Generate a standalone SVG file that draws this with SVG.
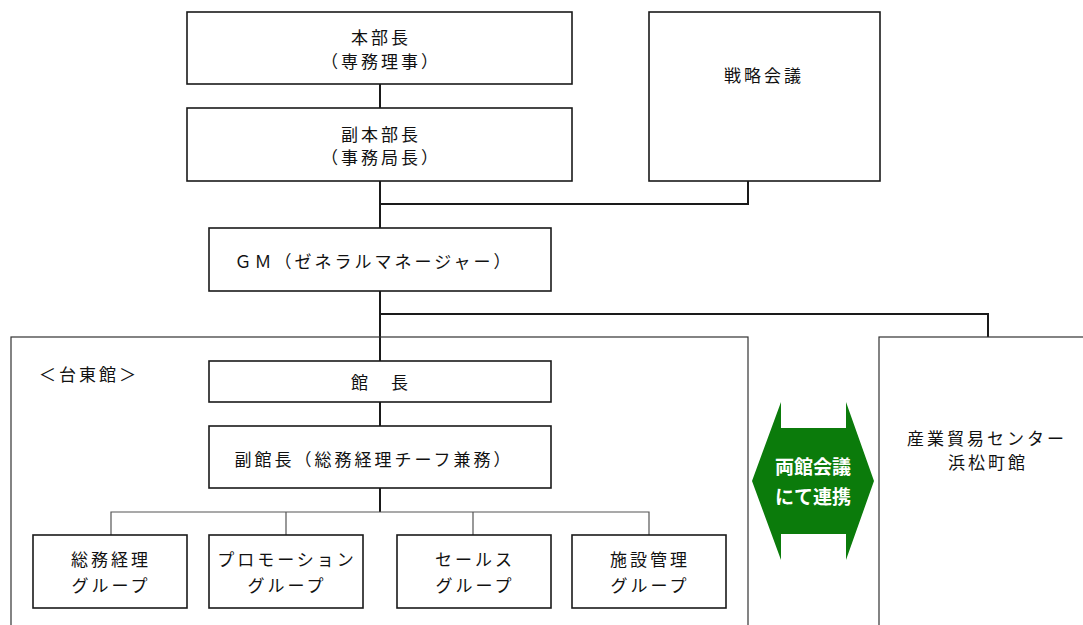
<svg xmlns="http://www.w3.org/2000/svg" width="1083" height="625" viewBox="0 0 1083 625">
<style>
.box{fill:#fff;stroke:#1a1a1a;stroke-width:1.6}
.area{fill:none;stroke:#333;stroke-width:1.2}
.t{font-family:"Noto Sans CJK JP","Noto Sans",sans-serif;font-size:17px;fill:#111;letter-spacing:3px;text-anchor:middle}
.tl{font-family:"Noto Sans CJK JP","Noto Sans",sans-serif;font-size:17px;fill:#111;letter-spacing:3px}
.main{fill:none;stroke:#1a1a1a;stroke-width:2}
.br{fill:none;stroke:#555;stroke-width:1.2}
.g{font-family:"Noto Sans CJK JP","Noto Sans",sans-serif;font-size:19px;font-weight:bold;fill:#fff;text-anchor:middle}
</style>
<rect width="1083" height="625" fill="#fff"/>
<g id="connectors">
<path class="main" d="M380 84V108M380 181V228M380 204H748V181M380 291V361M380 314H988V337M380 402V426M380 488V512"/>
<path class="br" d="M111 535V512H649V535M286 512V535M473 512V535"/>
</g>
<g id="area-taito">
<rect class="area" x="11" y="337" width="737" height="320"/>
<text class="tl" x="39" y="381">＜台東館＞</text>
</g>
<g id="area-hamamatsucho">
<rect class="area" x="879" y="337" width="300" height="320"/>
<text class="t" x="987" y="445">産業貿易センター</text>
<text class="t" x="988" y="469">浜松町館</text>
</g>
<g id="n-honbucho">
<rect class="box" x="187" y="12" width="385" height="72"/>
<text class="t" x="381" y="44">本部長</text>
<text class="t" x="381" y="68">（専務理事）</text>
</g>
<g id="n-fukuhonbucho">
<rect class="box" x="187" y="108" width="385" height="73"/>
<text class="t" x="381" y="141">副本部長</text>
<text class="t" x="381" y="164">（事務局長）</text>
</g>
<g id="n-senryaku">
<rect class="box" x="649" y="12" width="231" height="169"/>
<text class="t" x="764" y="82">戦略会議</text>
</g>
<g id="n-gm">
<rect class="box" x="209" y="228" width="342" height="63"/>
<text class="t" x="374" y="268">ＧＭ（ゼネラルマネージャー）</text>
</g>
<g id="n-kancho">
<rect class="box" x="209" y="361" width="342" height="41"/>
<text class="t" x="381" y="389">館　長</text>
</g>
<g id="n-fukukancho">
<rect class="box" x="209" y="426" width="342" height="62"/>
<text class="t" x="374" y="466">副館長（総務経理チーフ兼務）</text>
</g>
<g id="n-somu">
<rect class="box" x="33" y="535" width="154" height="73"/>
<text class="t" x="111" y="566">総務経理</text>
<text class="t" x="111" y="592">グループ</text>
</g>
<g id="n-promo">
<rect class="box" x="209" y="535" width="154" height="73"/>
<text class="t" x="287" y="566">プロモーション</text>
<text class="t" x="287" y="592">グループ</text>
</g>
<g id="n-sales">
<rect class="box" x="397" y="535" width="154" height="73"/>
<text class="t" x="475" y="566">セールス</text>
<text class="t" x="475" y="592">グループ</text>
</g>
<g id="n-shisetsu">
<rect class="box" x="572" y="535" width="154" height="73"/>
<text class="t" x="650" y="566">施設管理</text>
<text class="t" x="650" y="592">グループ</text>
</g>
<g id="n-renkei">
<polygon fill="#0b7b0b" points="781,402 781,428 846,428 846,402 874,481 846,560 846,534 781,534 781,560 752,481"/>
<text class="g" x="813" y="474">両館会議</text>
<text class="g" x="813" y="504">にて連携</text>
</g>
</svg>
